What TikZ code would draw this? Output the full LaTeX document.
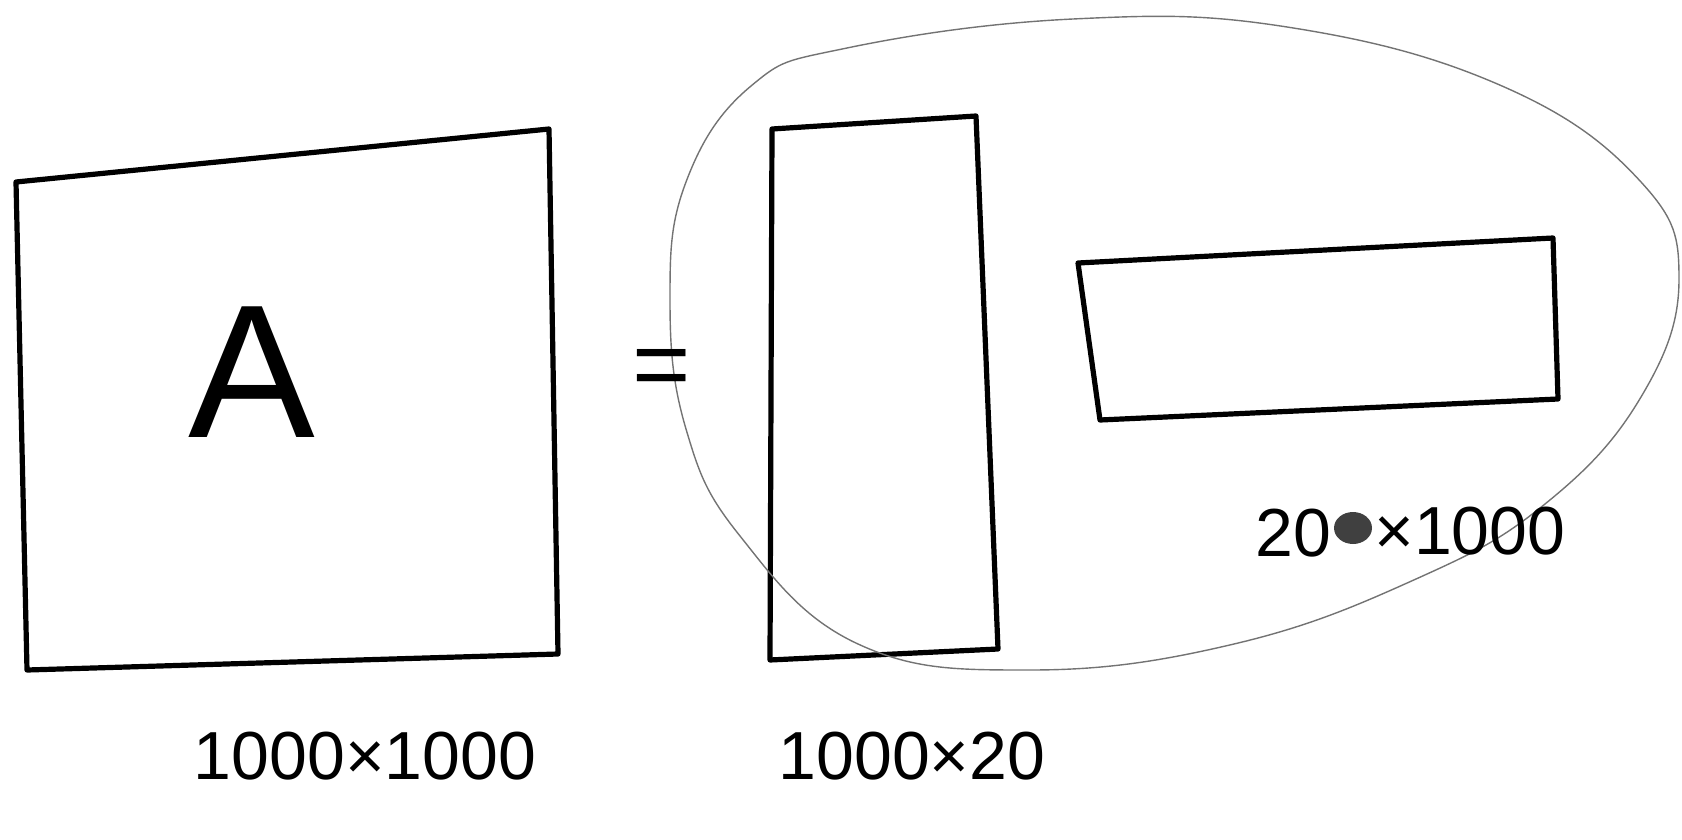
\documentclass[tikz,border=0pt]{standalone}
\usepackage{fontspec}
\setmainfont{Liberation Sans}
\usepackage{tikz}
\usetikzlibrary{positioning,calc}

\begin{document}
\begin{tikzpicture}[
  x=0.5pt, y=-0.5pt,
  every node/.style={font=\fontsize{34}{40}\selectfont},
  mat/.style={draw=black, line width=2.6pt, line join=round, line cap=round},
  blob/.style={draw=black!55, line width=0.7pt},
  dimlabel/.style={inner sep=0pt}
]
  \useasboundingbox (0,0) rectangle (1682,840);

  % the matrices, drawn by hand
  \draw[mat] (16,182) -- (549,129) -- (558,654) -- (27,670) -- cycle;
  \draw[mat] (772,129) -- (976,116) -- (998,649) -- (770,660) -- cycle;
  \draw[mat] (1078,263) -- (1553,238) -- (1558,399) -- (1100,420) -- cycle;

  % loop round the two factors
  \draw[blob] plot[smooth cycle, tension=0.7] coordinates {
    (686,182) (751,86) (847,48) (1073,19) (1287,27) (1502,86) (1641,182)
    (1679,279) (1641,397) (1545,504) (1416,579) (1234,644) (1030,670)
    (858,644) (740,536) (686,429) (670,300)};

  \node (a) at (252,372) {\fontsize{95}{100}\selectfont A};
  \node (eq) at (662,374) {\fontsize{50}{56}\selectfont =};

  \node[dimlabel] (dimA) at (365,756) {1000×1000};
  \node[dimlabel] (dimB) at (912,756) {1000×20};
  \node[dimlabel, anchor=east] (dimCa) at (1332,533) {20};
  \node[dimlabel, anchor=west] (dimCb) at (1374,531) {×1000};
  \fill[black!75] (1353,528) ellipse (19 and 16);
\end{tikzpicture}
\end{document}
